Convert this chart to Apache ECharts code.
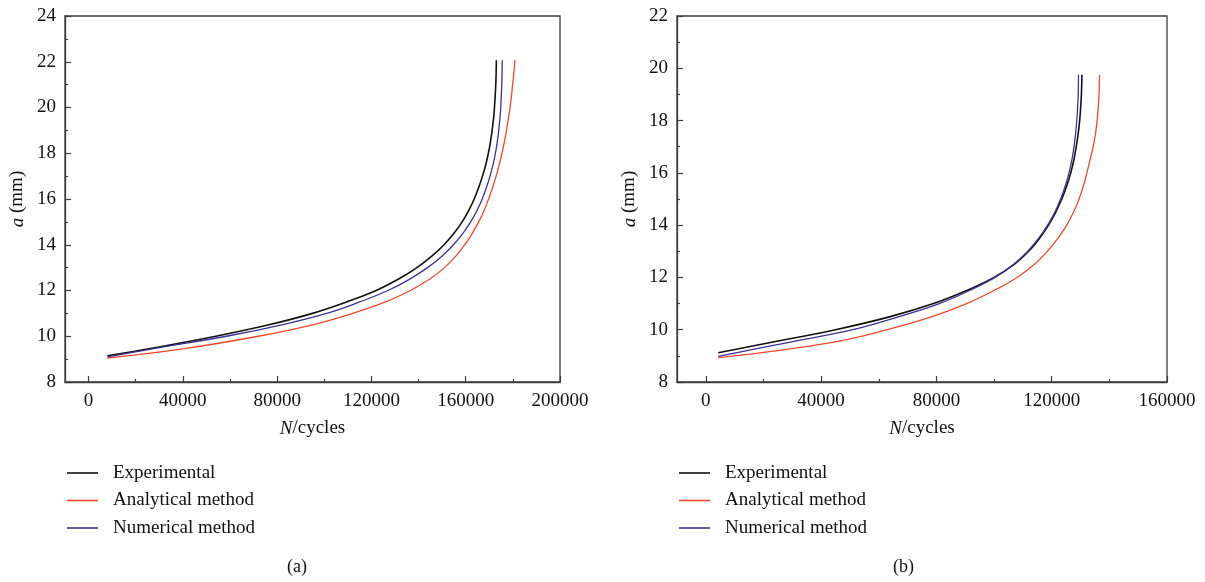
<!DOCTYPE html>
<html>
<head>
<meta charset="utf-8">
<script src="https://cdn.jsdelivr.net/npm/echarts@6/dist/echarts.min.js"></script>
<style>
html,body{margin:0;padding:0;background:#fff;}
#chart{width:1205px;height:582px;}
</style>
</head>
<body>
<div id="chart"></div>
<script>
// ---------- DATA ----------
var seriesNames = ['Experimental', 'Analytical method', 'Numerical method'];

// Panel (a): crack length a (mm) and cycles N
var aExpA = [9.15, 9.5, 10, 10.5, 11, 11.5, 12, 12.5, 13, 13.5, 14, 14.5, 15, 15.5, 16, 16.5, 17, 17.5, 18, 18.5, 19, 19.5, 20, 20.5, 21, 21.5, 22.07];
var aExpN = [8000, 28000, 54000, 76500, 95000, 109500, 122000, 131500, 139300, 145600, 150800, 155000, 158500, 161300, 163600, 165500, 167100, 168500, 169600, 170500, 171200, 171800, 172200, 172500, 172750, 172900, 173000];
var aAnaA = [9.05, 9.45, 10, 10.5, 11, 11.5, 12, 12.5, 13, 13.5, 14, 14.5, 15, 15.5, 16, 16.5, 17, 17.5, 18, 18.5, 19, 19.5, 20, 20.5, 21, 21.5, 22.07];
var aAnaN = [8000, 40000, 72000, 95000, 112000, 126000, 136500, 144800, 151000, 155800, 159600, 162800, 165500, 167800, 169700, 171400, 172900, 174200, 175400, 176400, 177300, 178100, 178800, 179400, 179900, 180400, 180900];
var aNumA = [9.1, 9.5, 10, 10.5, 11, 11.5, 12, 12.5, 13, 13.5, 14, 14.5, 15, 15.5, 16, 16.5, 17, 17.5, 18, 18.5, 19, 19.5, 20, 21, 22.07];
var aNumN = [8000, 30000, 58500, 82000, 101000, 115000, 127000, 136300, 143800, 149900, 154800, 158800, 162100, 164800, 167000, 168800, 170300, 171600, 172600, 173400, 174000, 174500, 174850, 175300, 175500];

// Panel (b)
var bExpA = [9.12, 9.5, 10, 10.5, 11, 11.5, 12, 12.5, 13, 13.5, 14, 14.5, 15, 15.5, 16, 16.5, 17, 17.5, 18, 18.5, 19, 19.75];
var bExpN = [4300, 22000, 45000, 64000, 79000, 90500, 100000, 107000, 112000, 115800, 118900, 121400, 123500, 125200, 126600, 127700, 128500, 129200, 129700, 130050, 130300, 130500];
var bAnaA = [8.93, 9.5, 10, 10.5, 11, 11.5, 12, 12.5, 13, 13.5, 14, 14.5, 15, 15.5, 16, 16.5, 17, 17.5, 18, 18.5, 19, 19.74];
var bAnaN = [4300, 43000, 63000, 78500, 90500, 100000, 108000, 114000, 118500, 122200, 125200, 127600, 129500, 131000, 132200, 133300, 134400, 135200, 135750, 136150, 136400, 136600];
var bNumA = [8.98, 9.5, 10, 10.5, 11, 11.5, 12, 12.5, 13, 13.5, 14, 14.5, 15, 15.5, 16, 16.5, 17, 17.5, 18, 18.5, 19, 19.75];
var bNumN = [4300, 28000, 51000, 67000, 81000, 91500, 100300, 106800, 111700, 115500, 118600, 121100, 123100, 124700, 126000, 127000, 127750, 128300, 128700, 129000, 129200, 129300];

// Axis ticks
var aXLabels = [0, 40000, 80000, 120000, 160000, 200000];
var aXMinor = [20000, 60000, 100000, 140000, 180000];
var bXLabels = [0, 40000, 80000, 120000, 160000];
var bXMinor = [20000, 60000, 100000, 140000];

// ---------- CHART ----------
function zip(ns, as) { return ns.map(function (n, i) { return [n, as[i]]; }); }
var colors = { 'Experimental': '#111111', 'Analytical method': '#f0482a', 'Numerical method': '#3a3296' };
var FONT = 'Liberation Serif';
var AXC = '#3c3c3c';

function mainX(gi, max, labels) {
  return {
    gridIndex: gi, type: 'value', min: -10000, max: max,
    axisLine: { show: true, onZero: false, lineStyle: { color: AXC, width: 1.3 } },
    axisTick: { show: true, inside: true, length: 6, customValues: labels, lineStyle: { color: AXC, width: 1.2 } },
    axisLabel: { customValues: labels, fontFamily: FONT, fontSize: 19, color: '#111', margin: 10, formatter: function (v) { return String(v); } },
    splitLine: { show: false },
    name: '{i|N}/cycles', nameLocation: 'middle', nameGap: 37,
    nameTextStyle: { fontFamily: FONT, fontSize: 19, color: '#111', rich: { i: { fontFamily: FONT, fontSize: 19, fontStyle: 'italic', color: '#111' } } }
  };
}
function minorX(gi, max, vals) {
  return {
    gridIndex: gi, type: 'value', min: -10000, max: max,
    axisLine: { show: false }, axisLabel: { show: false }, splitLine: { show: false },
    axisTick: { show: true, inside: true, length: 3, customValues: vals, lineStyle: { color: AXC, width: 1.2 } }
  };
}
function mainY(gi, max) {
  return {
    gridIndex: gi, type: 'value', min: 8, max: max, interval: 2,
    axisLine: { show: true, onZero: false, lineStyle: { color: AXC, width: 1.3 } },
    axisTick: { show: true, inside: true, length: 6, lineStyle: { color: AXC, width: 1.2 } },
    minorTick: { show: true, splitNumber: 2, length: 3, lineStyle: { color: AXC, width: 1.2 } },
    axisLabel: { fontFamily: FONT, fontSize: 19, color: '#111', margin: 9 },
    splitLine: { show: false }, minorSplitLine: { show: false },
    name: '{i|a} (mm)', nameLocation: 'middle', nameGap: 38,
    nameTextStyle: { fontFamily: FONT, fontSize: 19, color: '#111', rich: { i: { fontFamily: FONT, fontSize: 19, fontStyle: 'italic', color: '#111' } } }
  };
}
function hiddenY(gi, max) { return { gridIndex: gi, type: 'value', min: 8, max: max, show: false }; }

function line(name, xi, data) {
  return {
    type: 'line', name: name, xAxisIndex: xi, yAxisIndex: xi, data: data,
    showSymbol: false, smooth: 0.4, animation: false,
    lineStyle: { color: colors[name], width: name === 'Experimental' ? 1.6 : 1.3 },
    itemStyle: { color: colors[name] }
  };
}
function legend(left) {
  return {
    left: left, top: 458, orient: 'vertical', itemWidth: 31, itemHeight: 1.6, itemGap: 7.5,
    icon: 'rect', data: seriesNames, selectedMode: false,
    textStyle: { fontFamily: FONT, fontSize: 19, color: '#111', lineHeight: 20, padding: [0, 0, 0, 10] }
  };
}

var option = {
  backgroundColor: '#ffffff',
  animation: false,
  grid: [
    { left: 65, top: 16, width: 495, height: 366, show: true, borderColor: AXC, borderWidth: 1.3, backgroundColor: 'transparent' },
    { left: 65, top: 16, width: 495, height: 366, show: false },
    { left: 677, top: 16, width: 490, height: 366, show: true, borderColor: AXC, borderWidth: 1.3, backgroundColor: 'transparent' },
    { left: 677, top: 16, width: 490, height: 366, show: false }
  ],
  xAxis: [mainX(0, 200000, aXLabels), minorX(1, 200000, aXMinor), mainX(2, 160000, bXLabels), minorX(3, 160000, bXMinor)],
  yAxis: [mainY(0, 24), hiddenY(1, 24), mainY(2, 22), hiddenY(3, 22)],
  legend: [legend(62), legend(674)],
  series: [
    line('Experimental', 0, zip(aExpN, aExpA)),
    line('Analytical method', 0, zip(aAnaN, aAnaA)),
    line('Numerical method', 0, zip(aNumN, aNumA)),
    line('Experimental', 2, zip(bExpN, bExpA)),
    line('Analytical method', 2, zip(bAnaN, bAnaA)),
    line('Numerical method', 2, zip(bNumN, bNumA))
  ],
  graphic: [
    { type: 'text', left: 287, top: 558, style: { text: '(a)', font: '18px "Liberation Serif"', fill: '#111' } },
    { type: 'text', left: 893, top: 558, style: { text: '(b)', font: '18px "Liberation Serif"', fill: '#111' } }
  ]
};
var chart = echarts.init(document.getElementById('chart'), null, { renderer: 'canvas' });
chart.setOption(option);
</script>
</body>
</html>
